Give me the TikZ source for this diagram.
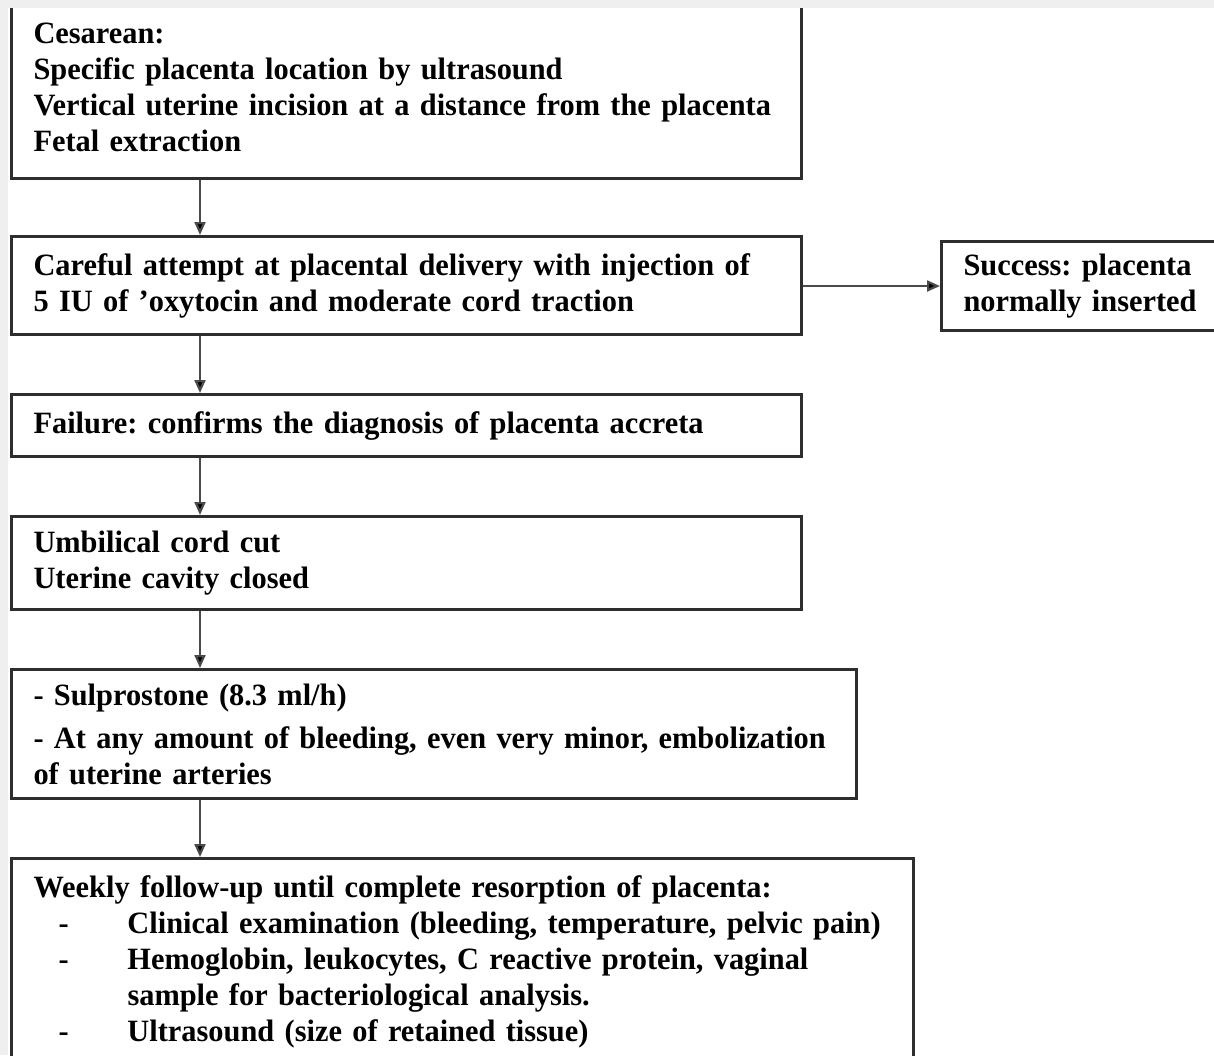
\documentclass[tikz,border=0pt]{standalone}
\usepackage{fontspec}
\setmainfont{Liberation Serif}[FakeStretch=0.98]
\usepackage{tikz}
\usetikzlibrary{arrows.meta,positioning,calc}
\definecolor{pagegray}{HTML}{EFEFEF}
\definecolor{edge}{HTML}{2E2E2E}
\definecolor{wire}{HTML}{4A4A4A}
\newcommand{\dashitem}{\makebox[94pt][l]{\hspace*{25pt}-}}
\frenchspacing

\begin{document}
\begin{tikzpicture}[x=1pt, y=-1pt,
    box/.style={draw=edge, line width=3pt, fill=white, anchor=north west,
                align=left, inner xsep=22pt, inner ysep=0pt,
                font=\fontsize{31}{36}\selectfont\bfseries},
    flow/.style={draw=wire, line width=2.2pt, -{Triangle[length=13pt,width=11pt,fill=black]}}
]
    \useasboundingbox (0,0) rectangle (1214,1055);
    \fill[pagegray] (0,0) rectangle (1214,1055);
    \fill[white] (8,8) rectangle (1214,1055);

    % Main column
    \node[box, minimum width=790pt, minimum height=182pt, text width=746pt] (cesar) at (10,-5)
        {Cesarean:\\ Specific placenta location by ultrasound\\
         Vertical uterine incision at a distance from the placenta\\ Fetal extraction};
    \node[box, minimum width=790pt, minimum height=98pt, text width=746pt] (attempt) at (10,235)
        {Careful attempt at placental delivery with injection of\\ 5 IU of 'oxytocin and moderate cord traction};
    \node[box, minimum width=790pt, minimum height=62pt, text width=746pt] (fail) at (10,393)
        {Failure: confirms the diagnosis of placenta accreta};
    \node[box, minimum width=790pt, minimum height=93pt, text width=746pt] (cord) at (10,515)
        {Umbilical cord cut\\ Uterine cavity closed};
    \node[box, minimum width=845pt, minimum height=129pt, text width=801pt] (sulpro) at (10,668)
        {- Sulprostone (8.3 ml/h)\\[7pt] - At any amount of bleeding, even very minor, embolization\\ of uterine arteries};
    \node[box, minimum width=902pt, minimum height=206pt, text width=858pt] (follow) at (10,857)
        {Weekly follow-up until complete resorption of placenta:\\
         \dashitem Clinical examination (bleeding, temperature, pelvic pain)\\
         \dashitem Hemoglobin, leukocytes, C reactive protein, vaginal\\
         \hspace*{94pt}sample for bacteriological analysis.\\
         \dashitem Ultrasound (size of retained tissue)};

    % Side branch
    \node[box, minimum width=300pt, minimum height=89pt, text width=256pt] (success) at (940,240)
        {Success: placenta\\ normally inserted};

    % Connectors
    \coordinate (spine) at (200,0);
    \draw[flow] (cesar.south -| spine) -- (attempt.north -| spine);
    \draw[flow] (attempt.south -| spine) -- (fail.north -| spine);
    \draw[flow] (fail.south -| spine) -- (cord.north -| spine);
    \draw[flow] (cord.south -| spine) -- (sulpro.north -| spine);
    \draw[flow] (sulpro.south -| spine) -- (follow.north -| spine);
    \draw[flow] (attempt.east |- success.west) -- (success.west);

    \fill[pagegray] (0,0) rectangle (1214,8);
\end{tikzpicture}
\end{document}
